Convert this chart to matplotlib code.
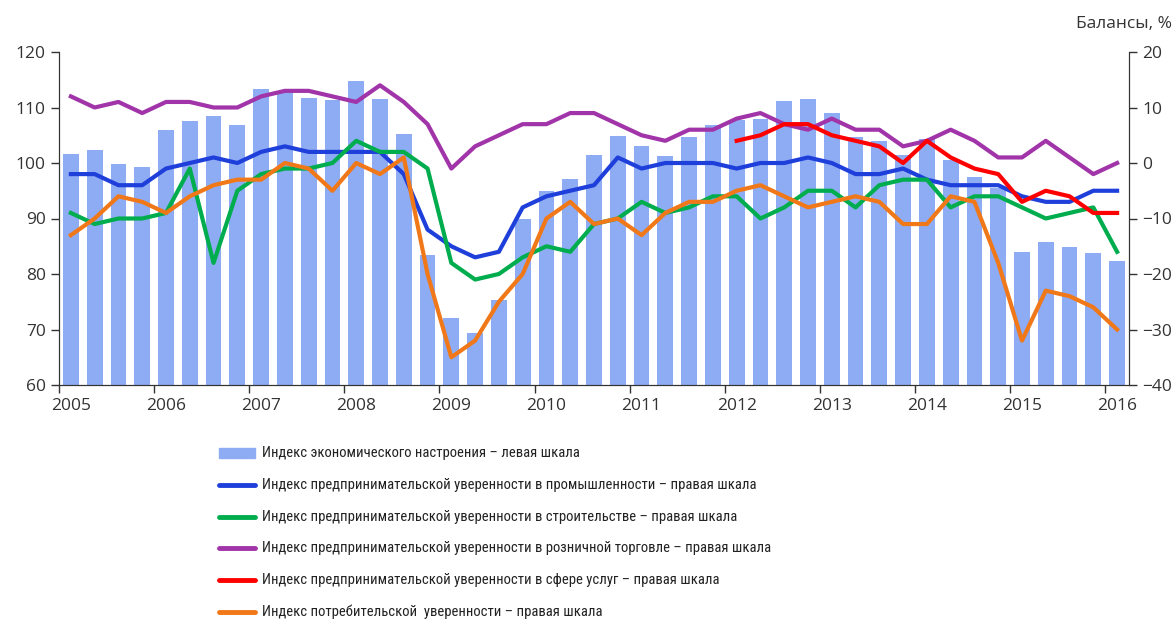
import numpy as np
import matplotlib
matplotlib.use('Agg')
import matplotlib.pyplot as plt
from matplotlib import font_manager
from matplotlib.lines import Line2D
from matplotlib.patches import Rectangle

# quarterly data, 2005Q1 .. 2016Q1
years = list(range(2005, 2017))

esi = [101.6, 102.3, 99.8, 99.3,
       106.0, 107.6, 108.4, 106.9,
       113.4, 112.8, 111.8, 111.4,
       114.8, 111.5, 105.2, 83.4,
       72.1, 69.3, 75.3, 89.9,
       95.0, 97.2, 101.4, 104.9,
       103.1, 101.3, 104.7, 106.8,
       107.7, 107.9, 111.2, 111.6,
       109.0, 104.6, 104.0, 101.4,
       104.3, 100.5, 97.5, 95.5,
       83.9, 85.7, 84.8, 83.7,
       82.3]

industry = [-2, -2, -4, -4,
            -1, 0, 1, 0,
            2, 3, 2, 2,
            2, 2, -2, -12,
            -15, -17, -16, -8,
            -6, -5, -4, 1,
            -1, 0, 0, 0,
            -1, 0, 0, 1,
            0, -2, -2, -1,
            -3, -4, -4, -4,
            -6, -7, -7, -5,
            -5]

construction = [-9, -11, -10, -10,
                -9, -1, -18, -5,
                -2, -1, -1, 0,
                4, 2, 2, -1,
                -18, -21, -20, -17,
                -15, -16, -11, -10,
                -7, -9, -8, -6,
                -6, -10, -8, -5,
                -5, -8, -4, -3,
                -3, -8, -6, -6,
                -8, -10, -9, -8,
                -16]

retail = [12, 10, 11, 9,
          11, 11, 10, 10,
          12, 13, 13, 12,
          11, 14, 11, 7,
          -1, 3, 5, 7,
          7, 9, 9, 7,
          5, 4, 6, 6,
          8, 9, 7, 6,
          8, 6, 6, 3,
          4, 6, 4, 1,
          1, 4, 1, -2,
          0]

services = [np.nan] * 28 + [4, 5, 7, 7,
                            5, 4, 3, 0,
                            4, 1, -1, -2,
                            -7, -5, -6, -9,
                            -9]

consumer = [-13, -10, -6, -7,
            -9, -6, -4, -3,
            -3, 0, -1, -5,
            0, -2, 1, -20,
            -35, -32, -25, -20,
            -10, -7, -11, -10,
            -13, -9, -7, -7,
            -5, -4, -6, -8,
            -7, -6, -7, -11,
            -11, -6, -7, -18,
            -32, -23, -24, -26,
            -30]

labels = ['Индекс экономического настроения – левая шкала',
          'Индекс предпринимательской уверенности в промышленности – правая шкала',
          'Индекс предпринимательской уверенности в строительстве – правая шкала',
          'Индекс предпринимательской уверенности в розничной торговле – правая шкала',
          'Индекс предпринимательской уверенности в сфере услуг – правая шкала',
          'Индекс потребительской  уверенности – правая шкала']

bar_color = '#8eacf4'
line_colors = ['#1f3fdb', '#00ad4e', '#a034a8', '#ff0000', '#f07818']

plt.rcParams['font.family'] = ['Open Sans', 'DejaVu Sans']

# narrowest installed family for the legend
installed = {f.name for f in font_manager.fontManager.ttflist}
leg_font = 'Roboto'
for name in ['Liberation Sans Narrow', 'Roboto Condensed', 'Open Sans Condensed',
             'Noto Sans Condensed', 'DejaVu Sans Condensed']:
    if name in installed:
        leg_font = name
        break

W, H = 1176, 621
fig = plt.figure(figsize=(W / 100, H / 100), dpi=100)
ax = fig.add_axes([59 / W, 1 - 385 / H, (1129 - 59) / W, (385 - 52) / H])
ax2 = ax.twinx()

x = np.arange(len(esi))
ax.bar(x, esi, width=0.66, color=bar_color, zorder=1)
ax.set_ylim(60, 120)
ax.set_xlim(-0.5, len(esi) - 0.5)
ax.set_yticks(range(60, 121, 10))

series = [industry, construction, retail, services, consumer]
for s, c in zip(series, line_colors):
    ax2.plot(x, s, color=c, lw=3.0)
ax2.set_ylim(-40, 20)
ax2.set_yticks(range(-40, 21, 10))

# year ticks at group boundaries, labels under first quarter
ax.set_xticks(np.arange(-0.5, len(esi), 4))
ax.set_xticklabels([])
ax.set_xticks(np.arange(0, len(esi), 4), minor=True)
ax.set_xticklabels([str(y) for y in years], minor=True)
ax.tick_params(axis='x', which='minor', length=0, pad=9, labelsize=12.5, colors='#333333')
ax.tick_params(axis='x', which='major', length=6, width=1, color='#333333')

for a in (ax, ax2):
    a.spines['top'].set_visible(False)
    for sp in a.spines.values():
        sp.set_color('#333333')
ax.tick_params(axis='y', length=6, width=1, color='#333333', labelsize=12.5, labelcolor='#333333')
ax2.tick_params(axis='y', length=6, width=1, color='#333333', labelsize=12.5, labelcolor='#333333')

fig.text(1172 / W, 1 - 24 / H, 'Балансы, %', ha='right', va='center', fontsize=12.5, color='#333333')

# legend rows, placed by hand
row0, pitch = 453, 31.8
for i, lab in enumerate(labels):
    yc = 1 - (row0 + pitch * i) / H
    if i == 0:
        fig.add_artist(Rectangle((219 / W, yc - 5 / H), 36 / W, 10 / H,
                                 transform=fig.transFigure, color=bar_color))
    else:
        fig.add_artist(Line2D([219 / W, 255 / W], [yc, yc], transform=fig.transFigure,
                              color=line_colors[i - 1], lw=3.5, solid_capstyle='round'))
    fig.text(262 / W, yc, lab, ha='left', va='center', color='#222222',
             family=[leg_font, 'DejaVu Sans'], fontsize=10.5)

fig.savefig('out.png', dpi=100)
